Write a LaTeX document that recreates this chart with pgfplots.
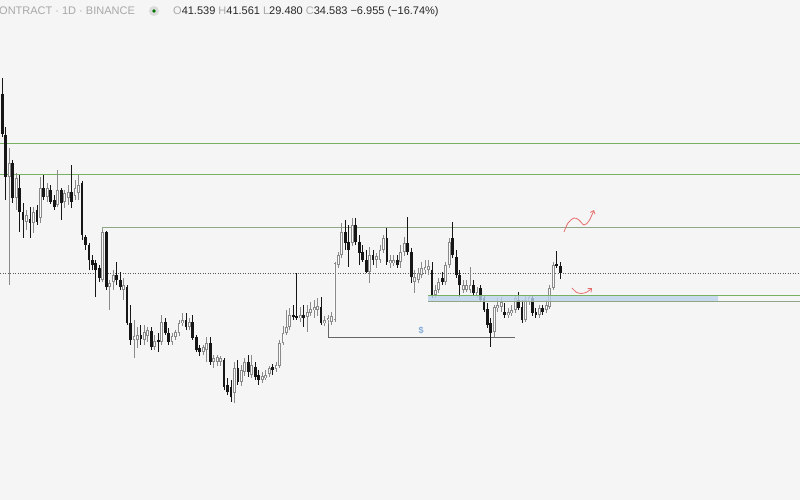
\documentclass[border=0pt]{standalone}
\usepackage{pgfplots}
\usepackage{pgfplotstable}
\pgfplotsset{compat=1.18}
\usetikzlibrary{arrows.meta}
\usepackage{fontspec}
\setmainfont{Liberation Sans}
\definecolor{bg}{RGB}{245,245,245}
\definecolor{upc}{RGB}{138,138,138}
\definecolor{upin}{RGB}{250,250,250}
\definecolor{dnc}{RGB}{22,22,22}
\definecolor{lvl}{RGB}{118,178,98}
\definecolor{lvlg}{RGB}{145,165,135}
\definecolor{zone}{RGB}{188,210,236}
\definecolor{hdr}{RGB}{168,168,168}
\definecolor{num}{RGB}{40,40,40}
\definecolor{arr}{RGB}{232,110,110}
\definecolor{dollar}{RGB}{130,170,215}

% candles: index, open, high, low, close (screen rows, downwards)
\pgfplotstableread{
i o h l c
0 94 78 137 134
1 135 127 200 177
2 177 148 285 163
3 163 160 203 198
4 198 173 210 178
5 188 175 232 212
6 212 203 238 220
7 222 210 230 215
8 219 207 238 223
9 223 207 233 212
10 210 205 225 222
11 218 177 223 188
12 188 175 200 197
13 197 183 202 188
14 190 185 204 202
15 200 195 210 207
16 205 170 207 190
17 190 188 220 203
18 202 190 208 193
19 198 185 205 192
20 192 165 208 202
21 196 180 200 188
22 193 175 200 185
23 183 181 240 235
24 237 235 250 245
25 245 243 270 260
26 260 255 270 265
27 263 260 297 270
28 268 265 282 278
29 280 230 282 232
30 232 231 290 287
31 287 280 310 283
32 282 270 290 275
33 275 262 285 280
34 280 272 290 287
35 290 278 300 285
36 287 285 325 323
37 323 305 345 340
38 340 320 358 336
39 340 327 348 335
40 335 325 345 339
41 340 325 345 332
42 336 327 342 330
43 331 327 350 347
44 347 335 350 341
45 340 333 352 342
46 342 315 345 322
47 322 318 335 333
48 333 328 345 342
49 342 333 345 336
50 337 330 340 332
51 333 320 336 323
52 323 313 326 320
53 320 313 330 327
54 327 318 330 322
55 322 315 340 338
56 337 335 352 350
57 348 345 356 352
58 352 345 355 347
59 350 337 362 343
60 343 337 365 362
61 362 355 368 358
62 362 355 366 357
63 362 356 366 358
64 360 358 390 387
65 385 378 395 392
66 387 380 402 397
67 393 362 403 368
68 368 360 385 382
69 382 365 386 370
70 372 358 376 362
71 362 355 377 372
72 375 355 378 365
73 367 362 380 377
74 375 370 385 380
75 380 372 383 376
76 378 370 380 375
77 374 366 377 368
78 367 364 375 370
79 369 362 372 365
80 366 340 368 343
81 343 326 345 333
82 333 310 335 327
83 327 308 330 315
84 315 305 320 317
85 316 273 320 318
86 318 307 322 315
87 315 305 327 318
88 317 305 332 312
89 313 302 316 309
90 310 300 318 307
91 310 298 316 306
92 307 297 325 323
93 323 316 326 320
94 320 315 324 318
95 322 312 325 316
96 320 262 322 263
97 265 252 268 255
98 255 223 258 232
99 232 220 250 243
100 242 225 267 250
101 243 218 246 225
102 225 218 245 242
103 242 235 265 253
104 252 245 262 260
105 260 250 273 272
106 272 247 283 255
107 255 250 265 260
108 260 253 268 256
109 260 245 263 250
110 250 235 253 238
111 238 228 265 262
112 263 255 268 260
113 263 255 266 260
114 260 255 268 265
115 262 245 268 252
116 252 237 256 243
117 243 217 255 252
118 252 248 283 277
119 282 270 293 277
120 280 268 283 273
121 275 262 278 268
122 270 260 273 267
123 270 260 275 266
124 270 262 298 295
125 295 285 298 290
126 290 278 293 282
127 278 272 285 282
128 282 262 285 265
129 265 238 268 242
130 238 222 258 255
131 257 250 278 275
132 275 270 297 285
133 290 280 293 285
134 290 280 292 285
135 290 267 293 285
136 285 280 295 293
137 295 287 298 292
138 288 285 302 300
139 298 295 312 310
140 309 303 328 325
141 323 318 347 333
142 332 305 337 307
143 308 298 312 305
144 307 297 312 302
145 312 303 318 315
146 315 308 318 312
147 313 305 316 310
148 310 295 313 298
149 300 292 310 308
150 307 300 323 320
151 320 295 322 300
152 302 295 305 297
153 298 295 316 313
154 312 308 318 315
155 315 305 318 308
156 308 305 315 312
157 310 300 313 305
158 307 285 309 288
159 288 262 290 265
160 264 251 268 266
161 266 262 279 273
}\candles

\begin{document}
\begin{tikzpicture}
\begin{axis}[
  scale only axis, width=800pt, height=500pt,
  xmin=0, xmax=800, ymin=0, ymax=500, y dir=reverse,
  axis line style={draw=none}, ticks=none,
  axis background/.style={fill=bg},
]
% levels behind candles
\addplot[lvl, line width=1pt] coordinates {(0,143) (800,143)};
\addplot[lvl, line width=1pt] coordinates {(0,174) (800,174)};
\addplot[lvlg, line width=0.8pt] coordinates {(102.5,231) (102.5,227) (800,227)};
\addplot[black!65, line width=0.7pt, dash pattern=on 0.9pt off 1.6pt] coordinates {(0,273) (800,273)};
\addplot[black!60, line width=0.8pt] coordinates {(328,320) (328,337) (515,337)};

% up candles: wicks
\addplot[draw=none, mark=none,
  restrict expr to domain={\thisrow{o}-\thisrow{c}}{0.01:1000},
  error bars/.cd, y dir=both, y explicit, error mark=none,
  error bar style={draw=upc, line width=0.85pt}]
  table[x expr={2.3+3.465*\thisrow{i}}, y expr={(\thisrow{h}+\thisrow{l})/2},
        y error expr={(\thisrow{l}-\thisrow{h})/2}] {\candles};
% up candles: body outline
\addplot[draw=none, mark=none,
  restrict expr to domain={\thisrow{o}-\thisrow{c}}{0.01:1000},
  error bars/.cd, y dir=both, y explicit, error mark=none,
  error bar style={draw=upc, line width=2.8pt}]
  table[x expr={2.3+3.465*\thisrow{i}}, y expr={(\thisrow{o}+\thisrow{c})/2},
        y error expr={max((\thisrow{o}-\thisrow{c})/2,0.6)}] {\candles};
% up candles: hollow interior
\addplot[draw=none, mark=none,
  restrict expr to domain={\thisrow{o}-\thisrow{c}}{0.01:1000},
  error bars/.cd, y dir=both, y explicit, error mark=none,
  error bar style={draw=upin, line width=0.9pt}]
  table[x expr={2.3+3.465*\thisrow{i}}, y expr={(\thisrow{o}+\thisrow{c})/2},
        y error expr={max((\thisrow{o}-\thisrow{c})/2-0.9,0)}] {\candles};
% down candles: wicks
\addplot[draw=none, mark=none,
  restrict expr to domain={\thisrow{c}-\thisrow{o}}{0.01:1000},
  error bars/.cd, y dir=both, y explicit, error mark=none,
  error bar style={draw=dnc, line width=0.85pt}]
  table[x expr={2.3+3.465*\thisrow{i}}, y expr={(\thisrow{h}+\thisrow{l})/2},
        y error expr={(\thisrow{l}-\thisrow{h})/2}] {\candles};
% down candles: bodies
\addplot[draw=none, mark=none,
  restrict expr to domain={\thisrow{c}-\thisrow{o}}{0.01:1000},
  error bars/.cd, y dir=both, y explicit, error mark=none,
  error bar style={draw=dnc, line width=2.8pt}]
  table[x expr={2.3+3.465*\thisrow{i}}, y expr={(\thisrow{o}+\thisrow{c})/2},
        y error expr={max((\thisrow{c}-\thisrow{o})/2,0.6)}] {\candles};

% demand zone
\addplot[fill=zone, fill opacity=0.8, draw=none] coordinates {(428,296) (718,296) (718,301) (428,301) (428,296)};
\addplot[lvl, line width=1pt] coordinates {(428,295.5) (800,295.5)};
\addplot[lvlg, line width=0.8pt] coordinates {(428,301) (800,301)};

% arrows
\addplot[arr, line width=0.8pt, smooth, -{Straight Barb[length=3pt,width=5pt]}]
  coordinates {(564,232) (568,223) (574,218) (579,220) (584,225) (589,221) (594,210)};
\addplot[arr, line width=0.8pt, smooth, -{Straight Barb[length=3pt,width=5pt]}]
  coordinates {(572,288) (576,292) (581,293.5) (587,292) (592,288)};

\node[text=dollar, font=\fontsize{9}{9}\selectfont\bfseries] at (axis cs:421,330) {\$};

% header
\node[anchor=base west, inner sep=0pt, text=hdr, font=\fontsize{11}{13}\selectfont] at (axis cs:-1,15) {ONTRACT · 1D · BINANCE};
\fill[black!14] (axis cs:154,11) circle (5pt);
\fill[green!45!black] (axis cs:154,11) circle (1.8pt);
\node[anchor=base west, inner sep=0pt, font=\fontsize{11}{13}\selectfont] at (axis cs:173,15)
  {\textcolor{hdr}{O}\textcolor{num}{41.539} \textcolor{hdr}{H}\textcolor{num}{41.561} \textcolor{hdr}{L}\textcolor{num}{29.480} \textcolor{hdr}{C}\textcolor{num}{34.583} \textcolor{num}{−6.955 (−16.74\%)}};
\end{axis}
\end{tikzpicture}
\end{document}
